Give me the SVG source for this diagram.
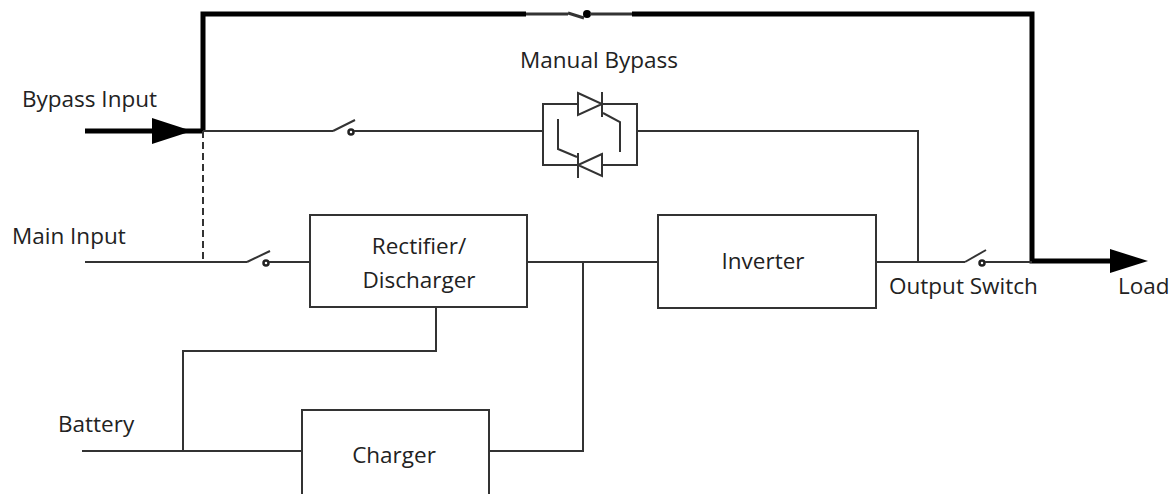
<svg xmlns="http://www.w3.org/2000/svg" width="1171" height="494" viewBox="0 0 1171 494">
<style>
.t{font-family:"Open Sans","Liberation Sans",sans-serif;font-size:22.5px;fill:#222}
.c{text-anchor:middle}
.w{fill:none;stroke:#333;stroke-width:2}
.k{fill:none;stroke:#000;stroke-width:5}
.b{fill:#fff;stroke:#333;stroke-width:2}
.d{fill:#fff;stroke:#222;stroke-width:2.5}
</style>
<rect width="1171" height="494" fill="#fff"/>
<g id="connectors">
<polyline class="k" points="203,131 203,14 526,14"/>
<line class="w" x1="526" y1="14" x2="568" y2="14" style="stroke-width:3"/>
<line class="w" x1="568" y1="13" x2="584" y2="18" style="stroke-width:3"/>
<circle cx="587" cy="14" r="4" fill="#000"/>
<line class="w" x1="590" y1="14" x2="632" y2="14" style="stroke-width:3"/>
<polyline class="k" points="632,14 1032,14 1032,261 1112,261"/>
<polygon points="1110,249 1148,261 1110,273" fill="#000"/>
<line class="k" x1="85" y1="131" x2="203" y2="131"/>
<polygon points="152,118 192,131 152,144" fill="#000"/>
<line class="w" x1="203" y1="131" x2="203" y2="262" stroke-dasharray="7,4"/>
<line class="w" x1="203" y1="131" x2="333" y2="131"/>
<line class="w" x1="333" y1="131" x2="355" y2="120"/>
<circle cx="351" cy="132" r="2.5" class="d"/>
<line class="w" x1="354" y1="131" x2="543" y2="131"/>
<polyline class="w" points="637,131 918,131 918,262"/>
<line class="w" x1="85" y1="262" x2="247" y2="262"/>
<line class="w" x1="247" y1="262" x2="270" y2="251"/>
<circle cx="266" cy="263" r="2.5" class="d"/>
<line class="w" x1="269" y1="262" x2="310" y2="262"/>
<line class="w" x1="527" y1="262" x2="658" y2="262"/>
<polyline class="w" points="583,262 583,451 489,451"/>
<line class="w" x1="876" y1="262" x2="965" y2="262"/>
<line class="w" x1="965" y1="262" x2="986" y2="250"/>
<circle cx="982" cy="263" r="2.5" class="d"/>
<line class="w" x1="985" y1="262" x2="1032" y2="262"/>
<line class="w" x1="82" y1="451" x2="302" y2="451"/>
<polyline class="w" points="183,451 183,351 436,351 436,307"/>
</g>
<g id="manual-bypass">
<rect x="543" y="104" width="94" height="61" fill="none" stroke="#333" stroke-width="2"/>
<polygon points="578,93 602,104 578,115" class="b"/>
<line class="w" x1="602" y1="92" x2="602" y2="117"/>
<polyline class="w" points="603,113 620,122 620,152"/>
<polygon points="602,154 578,165 602,176" class="b"/>
<line class="w" x1="578" y1="153" x2="578" y2="178"/>
<polyline class="w" points="558,119 558,149 577,157"/>
<text class="t c" x="599" y="68">Manual Bypass</text>
</g>
<g id="rectifier">
<rect class="b" x="310" y="215" width="217" height="92"/>
<text class="t c" x="419" y="254">Rectifier/</text>
<text class="t c" x="419" y="288">Discharger</text>
</g>
<g id="inverter">
<rect class="b" x="658" y="215" width="218" height="93"/>
<text class="t c" x="763" y="269">Inverter</text>
</g>
<g id="charger">
<rect class="b" x="302" y="410" width="187" height="100"/>
<text class="t c" x="394" y="463">Charger</text>
</g>
<g id="labels">
<text class="t" x="22" y="107">Bypass Input</text>
<text class="t" x="12" y="244">Main Input</text>
<text class="t" x="58" y="432">Battery</text>
<text class="t" x="889" y="294">Output Switch</text>
<text class="t" x="1118" y="294">Load</text>
</g>
</svg>
